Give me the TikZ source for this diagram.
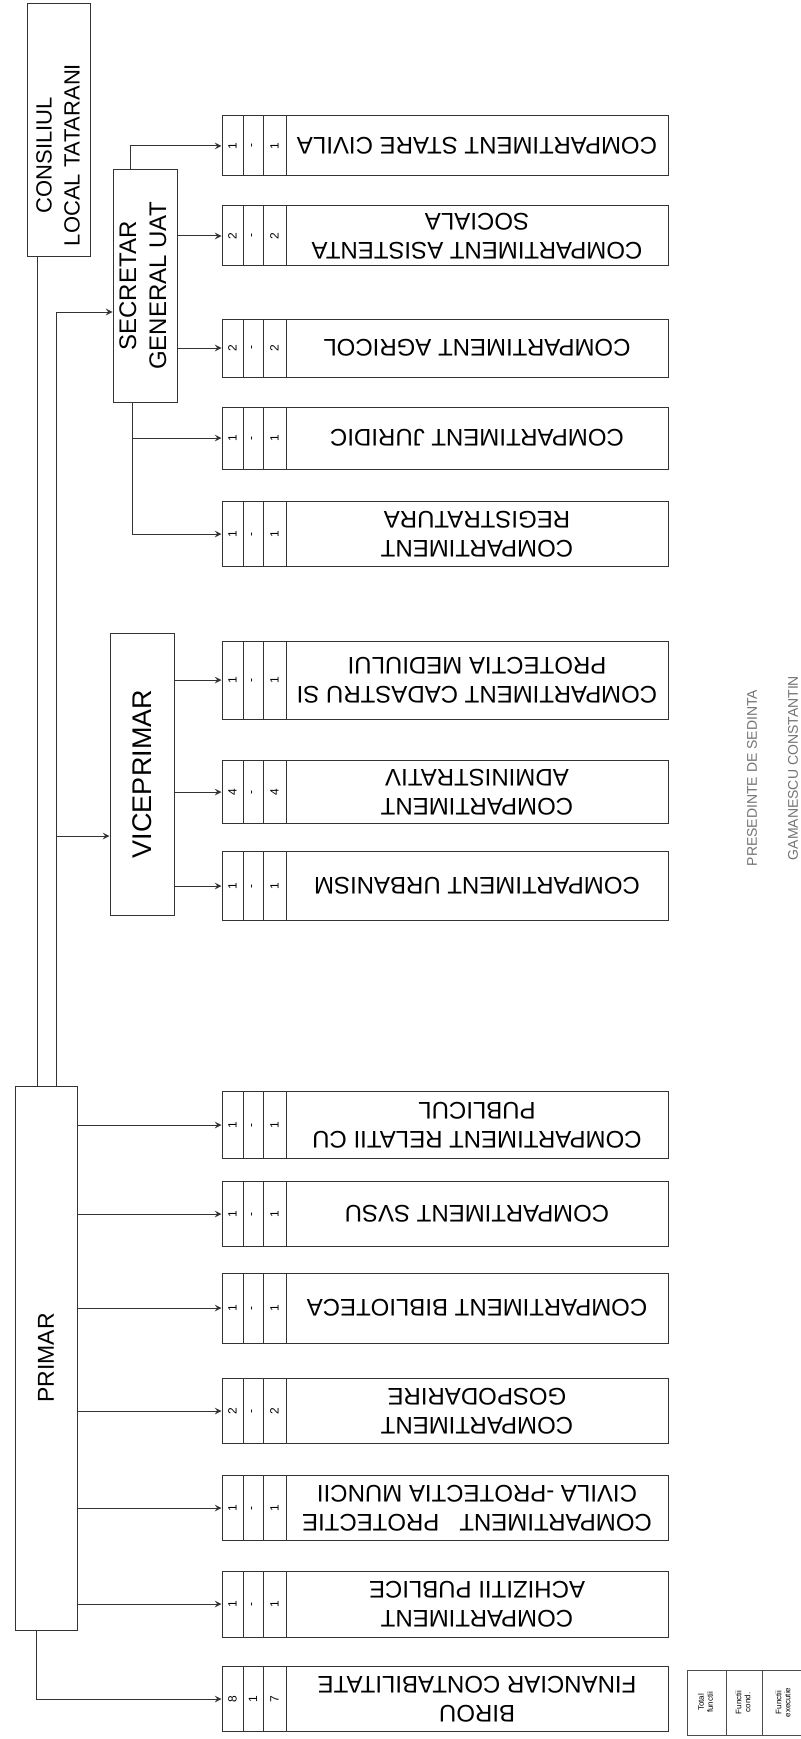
\documentclass[tikz,border=0pt]{standalone}
\usepackage{fontspec}
\setmainfont{Liberation Sans}

\begin{document}
\begin{tikzpicture}[>=stealth, x=0.5pt, y=-0.5pt, line width=0.5pt,
    headbox/.style={draw=black!80, inner sep=0pt, minimum width=32pt},
    cell/.style={draw=black!80, inner sep=0pt, font=\fontsize{6}{7}\selectfont},
    txtbox/.style={draw=black!80, inner sep=0pt, minimum width=191pt, align=center, rotate=180, font=\fontsize{12}{14.5}\selectfont},
    link/.style={->, black!80},
    legendcell/.style={draw=black!70, inner sep=0pt, minimum height=32.5pt, font=\fontsize{4}{4.6}\selectfont},
    note/.style={rotate=90, text=black!55, inner sep=0pt, font=\fontsize{7}{8}\selectfont}]
    \useasboundingbox (0,0) rectangle (801,1739);

    % conducere
    \node[headbox, minimum width=31.5pt, minimum height=126.5pt] (consiliul) at (58.5,130.5) {};
    \node[rotate=90, align=center, font=\fontsize{11}{14}\selectfont] (consiliultxt) at (58,155) {CONSILIUL\\LOCAL TATARANI};
    \node[headbox, minimum height=116pt] (secretar) at (145,286) {\rotatebox{90}{\fontsize{12}{15}\selectfont\begin{tabular}{@{}c@{}}SECRETAR\\GENERAL UAT\end{tabular}}};
    \node[headbox, minimum height=141pt, font=\fontsize{13.5}{16}\selectfont] (viceprimar) at (142,774) {\rotatebox{90}{VICEPRIMAR}};
    \node[headbox, minimum width=31pt, minimum height=272pt, font=\fontsize{11.5}{14}\selectfont] (primar) at (46,1358) {\rotatebox{90}{PRIMAR}};

    % compartimente: total / conducere / executie / denumire
    \foreach \nm/\yy/\hh/\na/\nb/\nc/\txt in {
        civila/146/30pt/1/-/1/{COMPARTIMENT STARE CIVILA},
        asistenta/236/30pt/2/-/2/{COMPARTIMENT ASISTENTA\\SOCIALA},
        agricol/348/29pt/2/-/2/{COMPARTIMENT AGRICOL},
        juridic/438/31pt/1/-/1/{COMPARTIMENT JURIDIC},
        registratura/534/32.5pt/1/-/1/{COMPARTIMENT\\REGISTRATURA},
        cadastru/680/39pt/1/-/1/{COMPARTIMENT CADASTRU SI\\PROTECTIA MEDIULUI},
        administrativ/792/31.5pt/4/-/4/{COMPARTIMENT\\ADMINISTRATIV},
        urbanism/886/34.5pt/1/-/1/{COMPARTIMENT URBANISM},
        relatii/1125/33.5pt/1/-/1/{COMPARTIMENT RELATII CU\\PUBLICUL},
        svsu/1214/32.5pt/1/-/1/{COMPARTIMENT SVSU},
        biblioteca/1308/35pt/1/-/1/{COMPARTIMENT BIBLIOTECA},
        gospodarire/1411/32.5pt/2/-/2/{COMPARTIMENT\\GOSPODARIRE},
        protectie/1508/32.5pt/1/-/1/{COMPARTIMENT\ \ \ PROTECTIE\\CIVILA -PROTECTIA MUNCII},
        achizitii/1604/33pt/1/-/1/{COMPARTIMENT\\ACHIZITII PUBLICE},
        birou/1699/32.5pt/8/1/7/{BIROU\\FINANCIAR CONTABILITATE}}{
        \node[cell, minimum width=10.5pt, minimum height=\hh] (\nm-tot) at (232.5,\yy) {\rotatebox{90}{\na}};
        \node[cell, minimum width=10pt, minimum height=\hh] (\nm-cond) at (253,\yy) {\rotatebox{90}{\nb}};
        \node[cell, minimum width=11.5pt, minimum height=\hh] (\nm-exec) at (274.5,\yy) {\rotatebox{90}{\nc}};
        \node[txtbox, minimum height=\hh] (\nm-txt) at (477,\yy) {\txt};
    }

    % legatura consiliu - primar
    \coordinate (clbot) at ([xshift=-10.75pt]consiliul.south);
    \draw[black!80] (clbot) -- (clbot |- primar.north);

    % primar -> secretar, viceprimar
    \coordinate (prtop) at ([xshift=5pt]primar.north);
    \coordinate (sgin) at ([yshift=-13pt]secretar.west);
    \coordinate (vpin) at ([yshift=-31pt]viceprimar.west);
    \draw[link] (prtop) |- (sgin);
    \draw[link] (prtop |- vpin) -- (vpin);

    % secretar general
    \coordinate (sgtop) at ([xshift=-7.5pt]secretar.north);
    \coordinate (sgbot) at ([xshift=-6.5pt]secretar.south);
    \draw[link] (sgtop) |- (civila-tot.west);
    \foreach \c in {asistenta, agricol}
        \draw[link] (secretar.east |- \c-tot.west) -- (\c-tot.west);
    \draw[link] (sgbot) |- (registratura-tot.west);
    \draw[link] (sgbot |- juridic-tot.west) -- (juridic-tot.west);

    % viceprimar
    \foreach \c in {cadastru, administrativ, urbanism}
        \draw[link] (viceprimar.east |- \c-tot.west) -- (\c-tot.west);

    % primar
    \foreach \c in {relatii, svsu, biblioteca, gospodarire, protectie, achizitii}
        \draw[link] (primar.east |- \c-tot.west) -- (\c-tot.west);
    \coordinate (prbot) at ([xshift=-5pt]primar.south);
    \draw[link] (prbot) |- (birou-tot.west);

    % legenda
    \node[legendcell, minimum width=19.5pt] (lgtot) at (706.5,1702.5) {\rotatebox{90}{\begin{tabular}{@{}c@{}}Total\\functii\end{tabular}}};
    \node[legendcell, minimum width=18pt] (lgcond) at (744,1702.5) {\rotatebox{90}{\begin{tabular}{@{}c@{}}Functii\\cond.\end{tabular}}};
    \node[legendcell, minimum width=22pt] (lgexec) at (784,1702.5) {\rotatebox{90}{\begin{tabular}{@{}c@{}}Functii\\executie\end{tabular}}};

    % semnatura
    \node[note] (presedinte) at (752,778) {PRESEDINTE DE SEDINTA};
    \node[note] (gamanescu) at (793,768) {GAMANESCU CONSTANTIN};
\end{tikzpicture}
\end{document}
